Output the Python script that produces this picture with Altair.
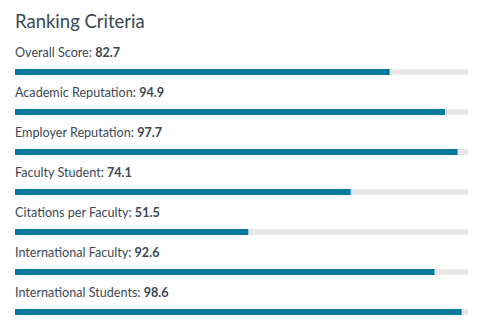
import subprocess
import altair as alt
import pandas as pd

title = "Ranking Criteria"
criteria = ["Overall Score", "Academic Reputation", "Employer Reputation",
            "Faculty Student", "Citations per Faculty", "International Faculty",
            "International Students"]
scores = [82.7, 94.9, 97.7, 74.1, 51.5, 92.6, 98.6]

FONT = "Lato"
LABEL_SIZE = 12.6
TEXT_COLOR = "#3a4854"

def measure(text, family, size):
    try:
        from PIL import ImageFont
        path = subprocess.run(["fc-match", "-f", "%{file}", family],
                              capture_output=True, text=True).stdout.strip()
        f = ImageFont.truetype(path, size)
        return f.getlength(text)
    except Exception:
        return len(text) * size * 0.5

df = pd.DataFrame({
    "criterion": criteria,
    "score": scores,
    "full": [100] * len(scores),
})
df["label"] = df["criterion"] + ": "
df["value"] = df["score"].map(lambda v: f"{v:.1f}")
df["vx"] = [measure(c + ": ", FONT, LABEL_SIZE) for c in criteria]

yenc = alt.Y("criterion:N", sort=criteria, axis=None,
             scale=alt.Scale(paddingInner=0, paddingOuter=0))
xscale = alt.Scale(domain=[0, 100], nice=False, zero=True)

base = alt.Chart(df)

bg = base.mark_bar(color="#e8e8e8", height=6, yOffset=14).encode(
    x=alt.X("full:Q", scale=xscale, axis=None), y=yenc)
fg = base.mark_bar(color="#0079a1", height=6, yOffset=14).encode(
    x=alt.X("score:Q", scale=xscale, axis=None), y=yenc)
lbl = base.mark_text(align="left", baseline="alphabetic", font=FONT,
                     fontSize=LABEL_SIZE, color=TEXT_COLOR, yOffset=-1).encode(
    x=alt.value(0), y=yenc, text="label:N")
val = base.mark_text(align="left", baseline="alphabetic", font=FONT,
                     fontSize=LABEL_SIZE, fontWeight="bold", color=TEXT_COLOR,
                     yOffset=-1).encode(
    x=alt.X("vx:Q", scale=None), y=yenc, text="value:N")
ttl = alt.Chart(pd.DataFrame({"t": [title]})).mark_text(
    align="left", baseline="alphabetic", font=FONT, fontSize=18.5,
    color=TEXT_COLOR).encode(x=alt.value(0), y=alt.value(-10), text="t:N")

chart = alt.layer(bg, fg, lbl, val, ttl).properties(
    width=453, height=280,
    autosize=alt.AutoSizeParams(type="none"),
    padding={"left": 15, "top": 38, "right": 20, "bottom": 18},
).configure(background="white").configure_view(stroke=None, strokeWidth=0)

chart.save("out.html", embed_options={"renderer": "svg", "actions": False})
